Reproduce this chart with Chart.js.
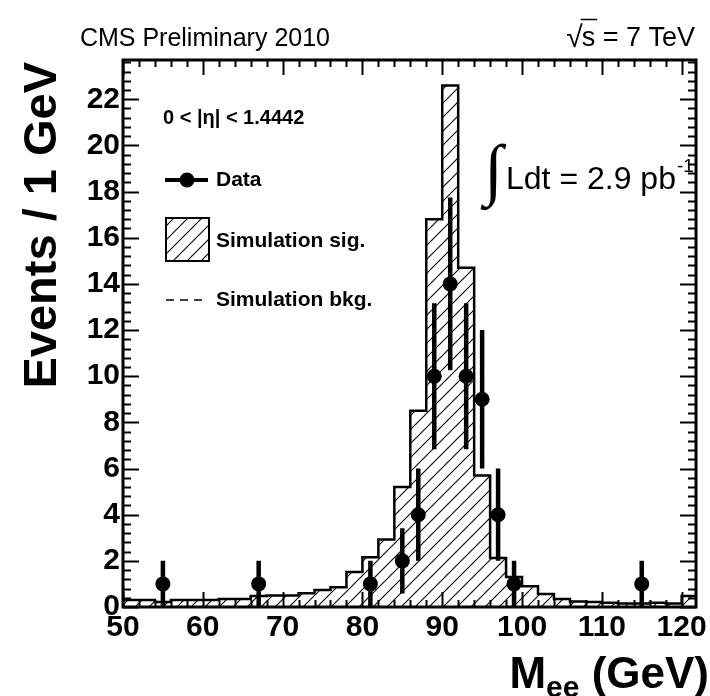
<!DOCTYPE html>
<html>
<head>
<meta charset="utf-8">
<script src="https://cdn.jsdelivr.net/npm/chart.js@4.4.0/dist/chart.umd.min.js"></script>
<style>
  html, body { margin: 0; padding: 0; background: #fff; }
  #wrap { width: 710px; height: 696px; }
</style>
</head>
<body>
<div id="wrap"><canvas id="chart" width="710" height="696"></canvas></div>
<script>
// Histogram binning (2 GeV bins), edges in GeV
const binEdges = [50, 52, 54, 56, 58, 60, 62, 64, 66, 68, 70, 72, 74, 76, 78, 80, 82, 84, 86,
                  88, 90, 92, 94, 96, 98, 100, 102, 104, 106, 108, 110, 112, 114, 116, 118, 120, 122];
// Simulated signal, one value per bin
const simSig = [0.30, 0.30, 0.22, 0.30, 0.30, 0.30, 0.35, 0.35, 0.48, 0.50, 0.50, 0.60, 0.74, 0.86,
                1.52, 2.16, 2.92, 5.20, 8.50, 16.8, 22.6, 14.7, 5.70, 2.12, 1.30, 0.90, 0.56, 0.35,
                0.24, 0.22, 0.18, 0.15, 0.15, 0.18, 0.15, 0.48];
// Data points (bin centres, counts)
const dataX = [55, 67, 81, 85, 87, 89, 91, 93, 95, 97, 99, 115];
const dataY = [1, 1, 1, 2, 4, 10, 14, 10, 9, 4, 1, 1];

const xTicks = [50, 60, 70, 80, 90, 100, 110, 120];
const yTicks = [0, 2, 4, 6, 8, 10, 12, 14, 16, 18, 20, 22];

const FONT = '"Liberation Sans", Arial, Helvetica, sans-serif';

// diagonal hatch like ROOT fill style 3004
function makeHatch() {
    const size = 14;
    const c = document.createElement('canvas');
    c.width = size; c.height = size;
    const g = c.getContext('2d');
    g.strokeStyle = '#000';
    g.lineWidth = 1.1;
    g.beginPath();
    g.moveTo(0, size); g.lineTo(size, 0);
    g.moveTo(-2, 2); g.lineTo(2, -2);
    g.moveTo(size - 2, size + 2); g.lineTo(size + 2, size - 2);
    g.stroke();
    return g.createPattern(c, 'repeat');
}
const hatch = makeHatch();

const stepPoints = binEdges.map((e, i) => ({ x: e, y: simSig[Math.min(i, simSig.length - 1)] }));
const dataPoints = dataX.map((x, i) => ({ x: x, y: dataY[i] }));

const rootFrame = {
    id: 'rootFrame',
    afterDatasetsDraw(chart) {
        const ctx = chart.ctx;
        const a = chart.chartArea;
        const xs = chart.scales.x, ys = chart.scales.y;
        ctx.save();
        ctx.strokeStyle = '#000';

        // ticks, pointing inwards on all four sides
        ctx.lineWidth = 2;
        ctx.beginPath();
        for (let v = 50; v <= xs.max + 1e-6; v += 2) {
            const px = Math.round(xs.getPixelForValue(v)) + 0.5;
            const len = (v % 10 === 0) ? 15 : 7;
            ctx.moveTo(px, a.bottom); ctx.lineTo(px, a.bottom - len);
            ctx.moveTo(px, a.top); ctx.lineTo(px, a.top + len);
        }
        for (let k = 0; k * 0.4 <= ys.max + 1e-6; k++) {
            const py = Math.round(ys.getPixelForValue(k * 0.4)) + 0.5;
            const len = (k % 5 === 0) ? 16 : 8;
            ctx.moveTo(a.left, py); ctx.lineTo(a.left + len, py);
            ctx.moveTo(a.right, py); ctx.lineTo(a.right - len, py);
        }
        ctx.stroke();

        // frame
        ctx.lineWidth = 3;
        ctx.strokeRect(a.left, a.top, a.right - a.left, a.bottom - a.top);

        // data error bars (Poisson sqrt N)
        ctx.lineWidth = 4.5;
        ctx.beginPath();
        dataX.forEach((x, i) => {
            const e = Math.sqrt(dataY[i]);
            const px = xs.getPixelForValue(x);
            ctx.moveTo(px, ys.getPixelForValue(dataY[i] - e));
            ctx.lineTo(px, ys.getPixelForValue(dataY[i] + e));
        });
        ctx.stroke();
        ctx.restore();
    },
    afterDraw(chart) {
        const ctx = chart.ctx;
        ctx.save();
        ctx.fillStyle = '#000';
        ctx.strokeStyle = '#000';

        // header
        ctx.textBaseline = 'alphabetic';
        ctx.textAlign = 'right';
        ctx.font = '25px ' + FONT;
        ctx.fillText('CMS Preliminary 2010', 330, 46);
        ctx.font = '27px ' + FONT;
        ctx.fillText('= 7 TeV', 695, 46);
        const eqW = ctx.measureText('= 7 TeV').width;
        const sW = ctx.measureText('s ').width;
        const sOnly = ctx.measureText('s').width;
        const sX = 695 - eqW - sW;
        ctx.fillText('s ', 695 - eqW, 46);
        ctx.font = '30px ' + FONT;
        ctx.fillText('\u221A', sX + 1, 47);
        ctx.lineWidth = 1.5;
        ctx.beginPath();
        ctx.moveTo(sX - 1, 19.5);
        ctx.lineTo(sX + sOnly + 2, 19.5);
        ctx.stroke();

        // y title
        ctx.save();
        ctx.translate(56, 62);
        ctx.rotate(-Math.PI / 2);
        ctx.font = 'bold 47px ' + FONT;
        ctx.textAlign = 'right';
        ctx.textBaseline = 'alphabetic';
        ctx.fillText('Events / 1 GeV', 0, 0);
        ctx.restore();

        // x title  M_ee (GeV)
        ctx.textAlign = 'left';
        ctx.font = 'bold 44px ' + FONT;
        const wM = ctx.measureText('M').width;
        const wG = ctx.measureText(' (GeV)').width;
        ctx.font = 'bold 30px ' + FONT;
        const wE = ctx.measureText('ee').width;
        let tx = 709 - wM - wE - wG;
        ctx.font = 'bold 44px ' + FONT;
        ctx.fillText('M', tx, 688);
        ctx.font = 'bold 30px ' + FONT;
        ctx.fillText('ee', tx + wM, 697);
        ctx.font = 'bold 44px ' + FONT;
        ctx.fillText(' (GeV)', tx + wM + wE, 688);

        // legend
        ctx.textBaseline = 'middle';
        ctx.font = 'bold 20px ' + FONT;
        ctx.fillText('0 < |\u03B7| < 1.4442', 163, 118);

        ctx.font = 'bold 21px ' + FONT;
        ctx.lineWidth = 4;
        ctx.beginPath();
        ctx.moveTo(165, 180); ctx.lineTo(208, 180);
        ctx.stroke();
        ctx.beginPath();
        ctx.arc(187, 180, 7.5, 0, Math.PI * 2);
        ctx.fill();
        ctx.fillText('Data', 216, 180);

        ctx.fillStyle = hatch;
        ctx.fillRect(166, 218, 43, 43);
        ctx.fillStyle = '#000';
        ctx.lineWidth = 2;
        ctx.strokeRect(166, 218, 43, 43);
        ctx.fillText('Simulation sig.', 216, 241);

        ctx.lineWidth = 1.5;
        ctx.setLineDash([8, 6]);
        ctx.beginPath();
        ctx.moveTo(166, 300); ctx.lineTo(208, 300);
        ctx.stroke();
        ctx.setLineDash([]);
        ctx.fillText('Simulation bkg.', 216, 300);

        // luminosity
        ctx.textBaseline = 'alphabetic';
        ctx.font = 'bold 68px "Liberation Serif", serif';
        ctx.fillText('\u222B', 484, 192);
        ctx.font = '32px ' + FONT;
        ctx.fillText('Ldt = 2.9 pb', 506, 189);
        const wL = ctx.measureText('Ldt = 2.9 pb').width;
        ctx.font = '19px ' + FONT;
        ctx.fillText('-1', 506 + wL + 1, 172);
        ctx.restore();
    }
};

const chart = new Chart(document.getElementById('chart'), {
    type: 'scatter',
    data: {
        datasets: [
            {
                label: 'Data',
                data: dataPoints,
                pointRadius: 7.5,
                pointHoverRadius: 7.5,
                backgroundColor: '#000',
                borderColor: '#000',
                borderWidth: 0,
                order: 1
            },
            {
                type: 'line',
                label: 'Simulation sig.',
                data: stepPoints,
                stepped: 'before',
                borderColor: '#000',
                borderWidth: 2.5,
                backgroundColor: hatch,
                fill: 'origin',
                pointRadius: 0,
                order: 2
            }
        ]
    },
    options: {
        responsive: false,
        animation: false,
        layout: { padding: { top: 60, right: 13, left: 0, bottom: 0 } },
        plugins: { legend: { display: false }, tooltip: { enabled: false } },
        scales: {
            x: {
                type: 'linear',
                min: 50,
                max: 121.8,
                grid: { display: false, drawTicks: false },
                border: { display: false },
                ticks: { color: '#000', padding: 3, maxRotation: 0,
                         font: { family: FONT, size: 30, weight: 'bold' } },
                afterBuildTicks: s => { s.ticks = xTicks.map(v => ({ value: v })); },
                afterFit: s => { s.height = 89; }
            },
            y: {
                type: 'linear',
                min: 0,
                max: 23.7,
                grid: { display: false, drawTicks: false },
                border: { display: false },
                ticks: { color: '#000', padding: 3,
                         font: { family: FONT, size: 30, weight: 'bold' } },
                afterBuildTicks: s => { s.ticks = yTicks.map(v => ({ value: v })); },
                afterFit: s => { s.width = 123; }
            }
        }
    },
    plugins: [rootFrame]
});
</script>
</body>
</html>
